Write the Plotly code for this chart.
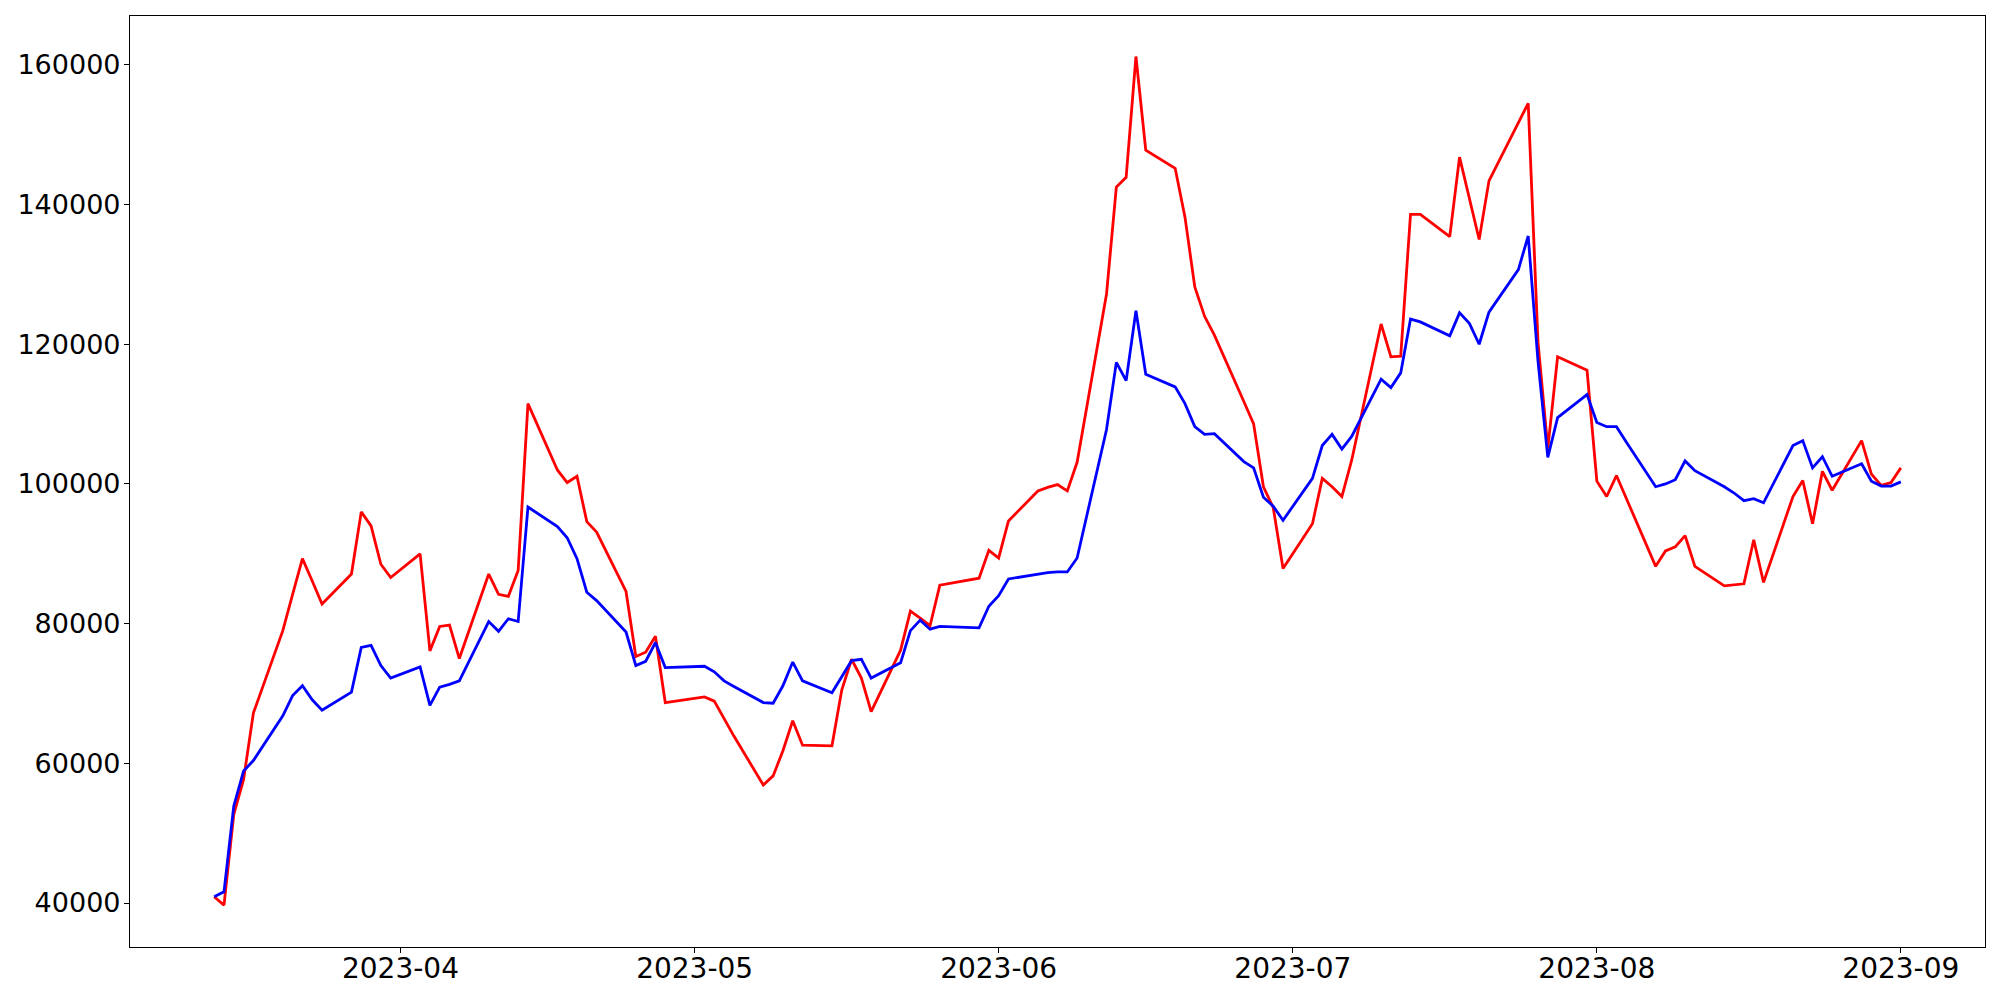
import plotly.graph_objects as go

dates = [
    "2023-03-13", "2023-03-14", "2023-03-15", "2023-03-16", "2023-03-17",
    "2023-03-20", "2023-03-21", "2023-03-22", "2023-03-23", "2023-03-24",
    "2023-03-27", "2023-03-28", "2023-03-29", "2023-03-30", "2023-03-31",
    "2023-04-03", "2023-04-04", "2023-04-05", "2023-04-06", "2023-04-07",
    "2023-04-10", "2023-04-11", "2023-04-12", "2023-04-13", "2023-04-14",
    "2023-04-17", "2023-04-18", "2023-04-19", "2023-04-20", "2023-04-21",
    "2023-04-24", "2023-04-25", "2023-04-26", "2023-04-27", "2023-04-28",
    "2023-05-02", "2023-05-03", "2023-05-04", "2023-05-05",
    "2023-05-08", "2023-05-09", "2023-05-10", "2023-05-11", "2023-05-12",
    "2023-05-15", "2023-05-16", "2023-05-17", "2023-05-18", "2023-05-19",
    "2023-05-22", "2023-05-23", "2023-05-24", "2023-05-25", "2023-05-26",
    "2023-05-30", "2023-05-31", "2023-06-01", "2023-06-02",
    "2023-06-05", "2023-06-06", "2023-06-07", "2023-06-08", "2023-06-09",
    "2023-06-12", "2023-06-13", "2023-06-14", "2023-06-15", "2023-06-16",
    "2023-06-19", "2023-06-20", "2023-06-21", "2023-06-22", "2023-06-23",
    "2023-06-26", "2023-06-27", "2023-06-28", "2023-06-29", "2023-06-30",
    "2023-07-03", "2023-07-04", "2023-07-05", "2023-07-06", "2023-07-07",
    "2023-07-10", "2023-07-11", "2023-07-12", "2023-07-13", "2023-07-14",
    "2023-07-17", "2023-07-18", "2023-07-19", "2023-07-20", "2023-07-21",
    "2023-07-24", "2023-07-25", "2023-07-26", "2023-07-27", "2023-07-28",
    "2023-07-31", "2023-08-01", "2023-08-02", "2023-08-03", "2023-08-04",
    "2023-08-07", "2023-08-08", "2023-08-09", "2023-08-10", "2023-08-11",
    "2023-08-14", "2023-08-15", "2023-08-16", "2023-08-17", "2023-08-18",
    "2023-08-21", "2023-08-22", "2023-08-23", "2023-08-24", "2023-08-25",
    "2023-08-28", "2023-08-29", "2023-08-30", "2023-08-31", "2023-09-01",
]

red_values = [
    40900, 39700, 52700, 57700, 67200,
    79000, 84200, 89300, 86100, 82800,
    87100, 96000, 94000, 88500, 86600,
    90000, 76100, 79600, 79800, 75000,
    87100, 84200, 83900, 87600, 111500,
    102000, 100200, 101100, 94600, 93100,
    84600, 75300, 75900, 78200, 68700,
    69500, 68900, 66300, 63900,
    56900, 58200, 61800, 66100, 62600,
    62500, 70500, 74900, 72200, 67400,
    76200, 81800, 80800, 79700, 85500,
    86500, 90500, 89400, 94700,
    99000, 99500, 99900, 99000, 103100,
    127200, 142500, 143900, 161200, 147800,
    145200, 138200, 128200, 124000, 121300,
    111800, 108600, 99600, 96600, 87900,
    94300, 100800, 99600, 98200, 103400,
    122900, 118200, 118300, 138600, 138600,
    135400, 146800, 140900, 135000, 143400,
    151800, 154500, 120300, 105100, 118200,
    116300, 100400, 98200, 101200, 97900,
    88200, 90400, 91000, 92600, 88200,
    85400, 85500, 85700, 92000, 85900,
    98200, 100500, 94300, 101800, 99100,
    106200, 101400, 99800, 100200, 102300,
]

blue_values = [
    40900, 41600, 53900, 58900, 60400,
    66800, 69700, 71100, 69100, 67600,
    70200, 76600, 76900, 74000, 72200,
    73800, 68300, 70900, 71300, 71800,
    80300, 78900, 80700, 80300, 96700,
    93900, 92300, 89300, 84500, 83300,
    78800, 74000, 74600, 77300, 73700,
    73900, 73100, 71800, 71000,
    68700, 68600, 71100, 74500, 71800,
    70100, 72500, 74700, 74900, 72200,
    74400, 79000, 80500, 79200, 79600,
    79400, 82500, 84000, 86400,
    87100, 87300, 87400, 87400, 89400,
    107800, 117400, 114800, 124800, 115700,
    113900, 111500, 108200, 107100, 107200,
    103200, 102300, 98100, 96800, 94800,
    100800, 105500, 107100, 105000, 106800,
    115000, 113800, 115900, 123600, 123200,
    121200, 124500, 123000, 120000, 124600,
    130700, 135500, 117600, 103800, 109500,
    112800, 108800, 108200, 108200, 106000,
    99600, 100000, 100600, 103300, 101900,
    99600, 98700, 97600, 97900, 97300,
    105500, 106200, 102300, 103900, 101100,
    102900, 100400, 99700, 99700, 100300,
]

x_tick_values = ["2023-04-01", "2023-05-01", "2023-06-01", "2023-07-01", "2023-08-01", "2023-09-01"]
x_tick_labels = ["2023-04", "2023-05", "2023-06", "2023-07", "2023-08", "2023-09"]
y_tick_values = [40000, 60000, 80000, 100000, 120000, 140000, 160000]

fig = go.Figure()
fig.add_trace(go.Scatter(x=dates, y=red_values, mode="lines",
                         line=dict(color="red", width=2.8), showlegend=False))
fig.add_trace(go.Scatter(x=dates, y=blue_values, mode="lines",
                         line=dict(color="blue", width=2.8), showlegend=False))

axis_common = dict(
    showgrid=False, zeroline=False, showline=True, linecolor="black", linewidth=1.2,
    mirror=True, ticks="outside", ticklen=5, tickwidth=1.2, tickcolor="black",
    automargin=False,
)

# The page body has an 8px default margin, so the figure is sized and
# offset to put the plot frame where it is in the reference.
fig.update_layout(
    width=1992, height=992,
    paper_bgcolor="white", plot_bgcolor="white",
    margin=dict(l=122, r=15, t=8, b=53),
    xaxis=dict(type="date", range=["2023-03-04 10:00", "2023-09-09 14:00"],
               tickvals=x_tick_values, ticktext=x_tick_labels,
               ticklabelstandoff=-9,
               tickfont=dict(family="DejaVu Sans", size=28, color="black"),
               **axis_common),
    yaxis=dict(range=[33700, 167000], tickvals=y_tick_values,
               ticktext=[str(v) for v in y_tick_values],
               ticklabelstandoff=-2,
               tickfont=dict(family="DejaVu Sans", size=27, color="black"),
               **axis_common),
)

fig.write_html("out.html")
